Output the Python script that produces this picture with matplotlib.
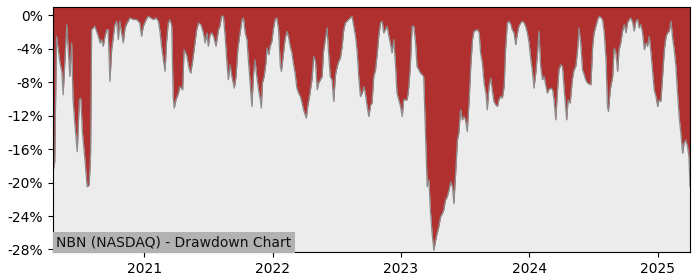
import matplotlib
matplotlib.use("Agg")
import matplotlib.pyplot as plt
import matplotlib.dates as mdates
import matplotlib.ticker as mticker
import pandas as pd

# drawdown (%), split by year
dates_2020 = ["2020-04-16", "2020-04-21", "2020-04-26", "2020-05-06", "2020-05-11", "2020-05-15",
              "2020-05-25", "2020-06-03", "2020-06-08", "2020-06-12", "2020-06-17", "2020-06-24",
              "2020-06-30", "2020-07-04", "2020-07-09", "2020-07-16", "2020-07-22", "2020-07-28",
              "2020-08-01", "2020-08-04", "2020-08-13", "2020-08-23", "2020-08-28", "2020-09-01",
              "2020-09-06", "2020-09-11", "2020-09-16", "2020-09-20", "2020-09-25", "2020-09-30",
              "2020-10-09", "2020-10-14", "2020-10-19", "2020-10-23", "2020-10-28", "2020-11-02",
              "2020-11-07", "2020-11-13", "2020-11-21", "2020-12-01", "2020-12-10", "2020-12-19",
              "2020-12-24", "2020-12-29"]
dd_2020 = [-18.7, -17.5, -2.5, -5.7, -6.7, -9.5,
           -1.1, -7.3, -3.3, -10.1, -12.9, -16.3,
           -10.1, -9.9, -14.1, -17.3, -20.5, -20.3,
           -16.5, -1.7, -1.3, -2.5, -3.3, -2.9,
           -3.7, -2.5, -1.7, -1.7, -7.9, -4.1,
           -1.1, -0.7, -2.9, -0.7, -2.1, -3.3,
           -1.5, -0.9, -0.3, -0.5, -0.5, -0.9,
           -2.5, -1.3]

dates_2021 = ["2021-01-06", "2021-01-12", "2021-01-19", "2021-01-27", "2021-02-03", "2021-02-10",
              "2021-02-15", "2021-02-19", "2021-02-24", "2021-03-01", "2021-03-05", "2021-03-10",
              "2021-03-15", "2021-03-20", "2021-03-24", "2021-03-27", "2021-04-01", "2021-04-08",
              "2021-04-12", "2021-04-20", "2021-04-24", "2021-05-01", "2021-05-09", "2021-05-13",
              "2021-05-19", "2021-05-25", "2021-05-30", "2021-06-04", "2021-06-11", "2021-06-18",
              "2021-06-23", "2021-06-28", "2021-07-02", "2021-07-07", "2021-07-12", "2021-07-17",
              "2021-07-24", "2021-07-31", "2021-08-04", "2021-08-09", "2021-08-14", "2021-08-19",
              "2021-08-24", "2021-08-28", "2021-09-02", "2021-09-07", "2021-09-12", "2021-09-14",
              "2021-09-19", "2021-09-24", "2021-09-29", "2021-10-06", "2021-10-10", "2021-10-15",
              "2021-10-20", "2021-10-24", "2021-10-29", "2021-11-03", "2021-11-08", "2021-11-12",
              "2021-11-17", "2021-11-22", "2021-11-27", "2021-11-30", "2021-12-03", "2021-12-08",
              "2021-12-13", "2021-12-16", "2021-12-21", "2021-12-25", "2021-12-30"]
dd_2021 = [-0.5, -0.1, -0.3, -0.5, -0.3, -0.7,
           -2.1, -3.7, -5.3, -6.7, -3.3, -0.9,
           -0.5, -1.3, -9.7, -11.1, -10.1, -9.3,
           -8.5, -8.9, -4.1, -4.7, -6.5, -6.9,
           -5.3, -3.3, -1.7, -0.9, -1.1, -2.1,
           -3.3, -2.1, -3.7, -2.3, -2.1, -2.5,
           -3.7, -1.7, -1.3, -0.1, -0.1, -2.5,
           -5.7, -7.7, -5.9, -7.3, -8.3, -8.7,
           -7.3, -4.1, -2.5, -0.5, -0.3, -2.1,
           -2.9, -5.3, -8.1, -10.9, -6.9, -5.3,
           -7.3, -8.9, -10.1, -11.1, -8.1, -7.3,
           -5.7, -3.9, -4.7, -3.7, -3.1]

dates_2022 = ["2022-01-03", "2022-01-08", "2022-01-13", "2022-01-18", "2022-01-23", "2022-01-26",
              "2022-01-31", "2022-02-06", "2022-02-11", "2022-02-15", "2022-02-20", "2022-02-25",
              "2022-03-01", "2022-03-06", "2022-03-11", "2022-03-16", "2022-03-21", "2022-03-26",
              "2022-03-30", "2022-04-04", "2022-04-07", "2022-04-11", "2022-04-16", "2022-04-23",
              "2022-04-28", "2022-05-03", "2022-05-08", "2022-05-12", "2022-05-17", "2022-05-22",
              "2022-05-26", "2022-05-31", "2022-06-05", "2022-06-10", "2022-06-14", "2022-06-19",
              "2022-06-24", "2022-06-29", "2022-07-04", "2022-07-08", "2022-07-13", "2022-07-18",
              "2022-07-22", "2022-07-27", "2022-08-05", "2022-08-15", "2022-08-20", "2022-08-25",
              "2022-08-30", "2022-09-03", "2022-09-08", "2022-09-13", "2022-09-18", "2022-09-22",
              "2022-09-27", "2022-10-02", "2022-10-07", "2022-10-11", "2022-10-16", "2022-10-21",
              "2022-10-26", "2022-10-30", "2022-11-04", "2022-11-09", "2022-11-13", "2022-11-18",
              "2022-11-23", "2022-11-28", "2022-12-02", "2022-12-07", "2022-12-12", "2022-12-17",
              "2022-12-21", "2022-12-26", "2022-12-31"]
dd_2022 = [-1.7, -0.5, -0.3, -1.7, -6.1, -6.7,
           -4.9, -2.7, -1.9, -2.5, -3.7, -4.5,
           -5.7, -6.9, -8.7, -9.3, -9.7, -10.5,
           -11.3, -11.9, -12.3, -10.9, -9.7, -7.7,
           -4.9, -5.5, -8.9, -8.1, -7.7, -7.3,
           -4.3, -2.9, -1.5, -4.9, -7.3, -7.7,
           -10.3, -7.1, -6.1, -5.5, -5.1, -3.7,
           -1.9, -0.9, -0.5, -0.1, -1.3, -2.5,
           -4.5, -7.3, -9.7, -9.3, -8.5, -9.3,
           -10.9, -12.1, -10.7, -10.5, -7.3, -6.5,
           -4.5, -2.5, -0.9, -0.7, -2.1, -1.7,
           -1.3, -2.5, -3.3, -4.5, -2.9, -6.1,
           -9.3, -10.1, -10.9]

dates_2023 = ["2023-01-05", "2023-01-09", "2023-01-19", "2023-01-23", "2023-01-28", "2023-02-02",
              "2023-02-07", "2023-02-12", "2023-02-16", "2023-02-26", "2023-03-07", "2023-03-12",
              "2023-03-17", "2023-03-22", "2023-03-26", "2023-03-31", "2023-04-05", "2023-04-10",
              "2023-04-14", "2023-04-19", "2023-04-24", "2023-04-29", "2023-05-03", "2023-05-08",
              "2023-05-13", "2023-05-18", "2023-05-23", "2023-05-28", "2023-06-01", "2023-06-06",
              "2023-06-11", "2023-06-15", "2023-06-20", "2023-06-25", "2023-06-30", "2023-07-04",
              "2023-07-09", "2023-07-14", "2023-07-19", "2023-07-24", "2023-07-28", "2023-08-07",
              "2023-08-12", "2023-08-16", "2023-08-21", "2023-08-26", "2023-08-31", "2023-09-04",
              "2023-09-09", "2023-09-14", "2023-09-18", "2023-09-23", "2023-09-28", "2023-10-03",
              "2023-10-07", "2023-10-12", "2023-10-17", "2023-10-22", "2023-10-26", "2023-10-31",
              "2023-11-05", "2023-11-10", "2023-11-14", "2023-11-19", "2023-11-24", "2023-11-29",
              "2023-12-03", "2023-12-08", "2023-12-13", "2023-12-18", "2023-12-22", "2023-12-27"]
dd_2023 = [-12.1, -10.1, -10.1, -8.9, -6.1, -1.3,
           -1.3, -3.3, -6.1, -6.9, -7.3, -14.1,
           -20.5, -19.7, -23.3, -26.1, -28.1, -26.9,
           -26.1, -25.3, -24.1, -23.7, -23.3, -22.1,
           -21.7, -20.9, -19.9, -20.5, -22.5, -18.9,
           -14.9, -14.1, -11.3, -12.5, -12.1, -12.5,
           -13.9, -10.5, -6.1, -2.9, -1.9, -1.7,
           -2.1, -4.5, -5.7, -8.1, -9.3, -11.3,
           -8.5, -7.5, -8.9, -10.3, -10.7, -10.9,
           -10.1, -9.7, -9.9, -8.5, -4.1, -0.9,
           -0.7, -1.1, -1.7, -2.1, -3.5, -2.1,
           -1.3, -0.9, -0.7, -0.9, -1.3, -2.1]

dates_2024 = ["2024-01-01", "2024-01-06", "2024-01-10", "2024-01-15", "2024-01-20", "2024-01-25",
              "2024-01-29", "2024-02-03", "2024-02-08", "2024-02-13", "2024-02-17", "2024-02-22",
              "2024-02-26", "2024-03-03", "2024-03-08", "2024-03-12", "2024-03-17", "2024-03-22",
              "2024-03-26", "2024-03-31", "2024-04-05", "2024-04-10", "2024-04-14", "2024-04-17",
              "2024-04-21", "2024-04-27", "2024-05-03", "2024-05-08", "2024-05-13", "2024-05-18",
              "2024-05-22", "2024-05-27", "2024-06-01", "2024-06-06", "2024-06-10", "2024-06-15",
              "2024-06-25", "2024-06-30", "2024-07-04", "2024-07-09", "2024-07-14", "2024-07-19",
              "2024-07-24", "2024-07-28", "2024-08-02", "2024-08-07", "2024-08-11", "2024-08-14",
              "2024-08-19", "2024-08-26", "2024-08-30", "2024-09-04", "2024-09-09", "2024-09-13",
              "2024-09-18", "2024-09-23", "2024-09-28", "2024-10-03", "2024-10-07", "2024-10-12",
              "2024-10-17", "2024-10-22", "2024-10-26", "2024-10-31", "2024-11-05", "2024-11-09",
              "2024-11-14", "2024-11-19", "2024-11-24", "2024-11-29", "2024-12-03", "2024-12-08",
              "2024-12-13", "2024-12-18", "2024-12-22", "2024-12-27"]
dd_2024 = [-3.3, -5.3, -6.5, -8.7, -6.9, -4.5,
           -1.9, -6.1, -7.7, -7.3, -8.3, -9.3,
           -8.9, -8.7, -8.9, -10.1, -12.5, -8.9,
           -6.5, -5.9, -6.1, -8.9, -10.9, -12.5,
           -10.1, -10.5, -7.7, -6.5, -6.1, -4.1,
           -1.5, -3.3, -6.5, -7.1, -7.7, -8.1,
           -8.3, -3.7, -2.1, -1.3, -0.5, -0.1,
           -0.3, -0.5, -2.1, -5.3, -10.9, -11.5,
           -8.9, -7.3, -3.9, -4.5, -6.7, -4.1,
           -3.3, -1.9, -1.1, -2.1, -0.9, -0.5,
           -0.3, -0.9, -1.9, -0.7, -0.5, -1.5,
           -1.1, -2.1, -4.1, -3.3, -3.7, -2.5,
           -4.5, -6.9, -8.9, -9.7]

dates_2025 = ["2025-01-01", "2025-01-05", "2025-01-10", "2025-01-15", "2025-01-20", "2025-01-25",
              "2025-01-29", "2025-02-03", "2025-02-08", "2025-02-12", "2025-02-17", "2025-02-22",
              "2025-02-26", "2025-03-03", "2025-03-08", "2025-03-13", "2025-03-17", "2025-03-22",
              "2025-03-27", "2025-03-31", "2025-04-03"]
dd_2025 = [-10.9, -10.1, -10.3, -7.3, -4.1, -2.5,
           -2.1, -1.9, -0.7, -2.5, -4.1, -6.1,
           -8.9, -12.1, -14.1, -16.5, -15.3, -14.9,
           -15.7, -16.9, -20.5]

y_ticks = [0, -4, -8, -12, -16, -20, -24, -28]
title_text = "NBN (NASDAQ) - Drawdown Chart"

dates = pd.to_datetime(dates_2020 + dates_2021 + dates_2022 + dates_2023 + dates_2024 + dates_2025)
drawdown = dd_2020 + dd_2021 + dd_2022 + dd_2023 + dd_2024 + dd_2025

fig = plt.figure(figsize=(7, 2.8), dpi=100)
ax = fig.add_axes([0.0757, 0.1, 0.91, 0.875])
ax.set_facecolor("#ececec")

y_top = 1.0
y_bottom = -28.3
ax.fill_between(dates, drawdown, y_top, color="#b03030", linewidth=0)
ax.plot(dates, drawdown, color="#8c8c8c", linewidth=0.9)

ax.set_xlim(dates.min(), dates.max())
ax.set_ylim(y_bottom, y_top)
ax.set_yticks(y_ticks)
ax.yaxis.set_major_formatter(mticker.FuncFormatter(lambda v, _: f"{v:.0f}%"))
ax.xaxis.set_major_locator(mdates.YearLocator())
ax.xaxis.set_major_formatter(mdates.DateFormatter("%Y"))
ax.tick_params(labelsize=10)

ax.text(0.005, 0.012, title_text, transform=ax.transAxes, ha="left", va="bottom",
        fontsize=10, color="#111111",
        bbox=dict(facecolor="#b2b2b2", edgecolor="none", pad=2.5))

fig.savefig("out.png", dpi=100)
